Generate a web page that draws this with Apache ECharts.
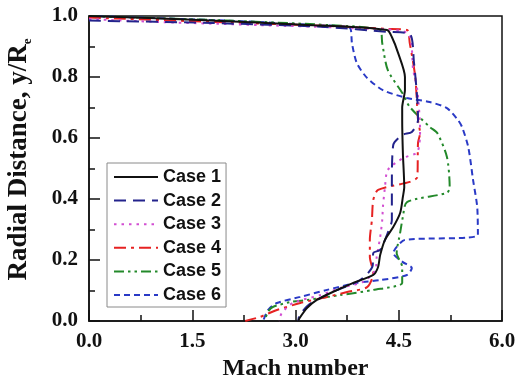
<!DOCTYPE html>
<html>
<head>
<meta charset="utf-8">
<script src="https://cdn.jsdelivr.net/npm/echarts@6/dist/echarts.min.js"></script>
<style>
  html, body { margin: 0; padding: 0; background: #fff; }
  #chart { width: 528px; height: 379px; }
</style>
</head>
<body>
<div id="chart"></div>
<script>
// Radial Mach number profiles at the nozzle exit, [Mach, y/Re] along each profile
const caseNames = ['Case 1', 'Case 2', 'Case 3', 'Case 4', 'Case 5', 'Case 6'];

const case1 = [[0,1.0],[1.6,0.987],[3.25,0.97],[4.33,0.954],[4.40,0.931],[4.49,0.879],[4.59,0.80],[4.59,0.757],[4.55,0.70],[4.55,0.659],[4.56,0.551],[4.58,0.439],[4.56,0.407],[4.52,0.354],[4.42,0.308],[4.30,0.266],[4.23,0.216],[4.20,0.177],[4.13,0.151],[3.84,0.125],[3.54,0.095],[3.31,0.069],[3.17,0.043],[3.06,0.01],[3.04,0]];
const case2 = [[0,0.985],[1.79,0.977],[3.43,0.964],[4.33,0.948],[4.66,0.941],[4.72,0.85],[4.77,0.725],[4.78,0.659],[4.69,0.62],[4.55,0.61],[4.42,0.577],[4.40,0.45],[4.40,0.331],[4.34,0.289],[4.23,0.233],[4.13,0.223],[4.12,0.18],[3.94,0.134],[3.54,0.095],[3.21,0.056],[3.06,0.02],[3.04,0]];
const case3 = [[0,0.99],[1.06,0.98],[2.5,0.97],[3.8,0.96],[4.63,0.944],[4.71,0.823],[4.77,0.757],[4.81,0.626],[4.77,0.554],[4.56,0.534],[4.34,0.495],[4.30,0.439],[4.27,0.374],[4.26,0.331],[4.23,0.275],[4.18,0.21],[4.16,0.167],[3.98,0.128],[3.65,0.108],[3.36,0.085],[2.96,0.059],[2.80,0.026],[2.76,0]];
const case4 = [[0,0.995],[1.87,0.98],[3.4,0.968],[4.3,0.958],[4.62,0.954],[4.66,0.911],[4.74,0.80],[4.78,0.659],[4.81,0.616],[4.78,0.584],[4.77,0.472],[4.66,0.456],[4.20,0.43],[4.13,0.397],[4.11,0.331],[4.08,0.266],[4.08,0.21],[4.13,0.157],[4.04,0.111],[3.75,0.095],[3.46,0.079],[3.07,0.059],[2.73,0.036],[2.48,0.013],[2.27,0]];
const case5 = [[0,1.0],[2.0,0.985],[3.5,0.97],[4.23,0.954],[4.26,0.911],[4.34,0.823],[4.55,0.748],[4.66,0.702],[4.95,0.636],[5.06,0.616],[5.20,0.538],[5.24,0.439],[5.20,0.42],[4.62,0.39],[4.56,0.341],[4.52,0.289],[4.47,0.223],[4.55,0.177],[4.55,0.125],[4.13,0.102],[3.65,0.085],[3.17,0.069],[2.92,0.062],[2.67,0.046],[2.60,0.03],[2.55,0]];
const case6 = [[0,1.0],[2.0,0.985],[3.3,0.97],[3.79,0.961],[3.82,0.911],[3.89,0.846],[4.04,0.797],[4.27,0.757],[4.62,0.731],[4.95,0.718],[5.20,0.698],[5.36,0.659],[5.42,0.636],[5.51,0.57],[5.58,0.462],[5.64,0.374],[5.65,0.282],[4.59,0.266],[4.47,0.243],[4.42,0.223],[4.56,0.193],[4.69,0.174],[4.62,0.151],[4.23,0.134],[3.89,0.125],[3.46,0.102],[3.07,0.079],[2.73,0.059],[2.60,0.036],[2.53,0]];

const profiles = [case1, case2, case3, case4, case5, case6];
const colors = ['#111111', '#23238c', '#d24fd2', '#e62222', '#23892a', '#2a3ac6'];
const dashes = ['solid', [12, 7], [2.5, 5], [12, 5, 3, 5], [10, 4, 2.5, 4, 2.5, 4], [6, 4]];

const serif = '"Liberation Serif", "Times New Roman", serif';

const chart = echarts.init(document.getElementById('chart'), null, { renderer: 'canvas' });

chart.setOption({
  animation: false,
  backgroundColor: '#ffffff',
  grid: {
    left: 89, right: 26, top: 16, bottom: 58,
    outerBoundsMode: 'none', containLabel: false,
    show: true, borderColor: '#111', borderWidth: 1.5, backgroundColor: 'transparent'
  },
  legend: {
    data: caseNames,
    orient: 'vertical',
    left: 107, top: 163,
    padding: [5, 5, 3, 6],
    itemWidth: 44, itemHeight: 14, itemGap: 5.6,
    backgroundColor: '#fff',
    borderColor: '#8a8a8a', borderWidth: 1, borderRadius: 0,
    itemStyle: { opacity: 0 },
    textStyle: { fontFamily: '"Liberation Sans", Arial, sans-serif', fontWeight: 'bold', fontSize: 18, lineHeight: 18, color: '#111' }
  },
  xAxis: {
    type: 'value', min: 0, max: 6, interval: 1.5,
    name: 'Mach number', nameLocation: 'middle', nameGap: 33,
    nameTextStyle: { fontFamily: serif, fontWeight: 'bold', fontSize: 24, color: '#111' },
    axisLine: { lineStyle: { color: '#111', width: 1.5 } },
    axisTick: { inside: true, length: 11, lineStyle: { color: '#111', width: 1.5 } },
    minorTick: { show: true, splitNumber: 2, length: 6, lineStyle: { color: '#111', width: 1.5 } },
    axisLabel: { fontFamily: serif, fontWeight: 'bold', fontSize: 21, color: '#111', margin: 10,
      formatter: v => v.toFixed(1) },
    splitLine: { show: false }
  },
  yAxis: {
    type: 'value', min: 0, max: 1, interval: 0.2,
    name: '{t|Radial Distance, y/R}{s|e}', nameLocation: 'middle', nameRotate: 90, nameGap: 55,
    nameTextStyle: {
      padding: [0, 0, 0, 18],
      rich: {
        t: { fontFamily: serif, fontWeight: 'bold', fontSize: 27, color: '#111', lineHeight: 30 },
        s: { fontFamily: serif, fontWeight: 'bold', fontSize: 13, color: '#111', lineHeight: 30, verticalAlign: 'bottom', padding: [10, 0, 0, 0] }
      }
    },
    axisLine: { lineStyle: { color: '#111', width: 1.5 } },
    axisTick: { inside: true, length: 11, lineStyle: { color: '#111', width: 1.5 } },
    minorTick: { show: true, splitNumber: 2, length: 6, lineStyle: { color: '#111', width: 1.5 } },
    axisLabel: { fontFamily: serif, fontWeight: 'bold', fontSize: 21, color: '#111', margin: 11,
      formatter: v => v.toFixed(1) },
    splitLine: { show: false }
  },
  series: profiles.map((pts, i) => ({
    name: caseNames[i],
    type: 'line',
    data: pts,
    symbol: 'none',
    smooth: 0.25,
    z: 10 - i,
    lineStyle: { color: colors[i], width: 2, type: dashes[i] },
    itemStyle: { color: colors[i] }
  }))
});
</script>
</body>
</html>
